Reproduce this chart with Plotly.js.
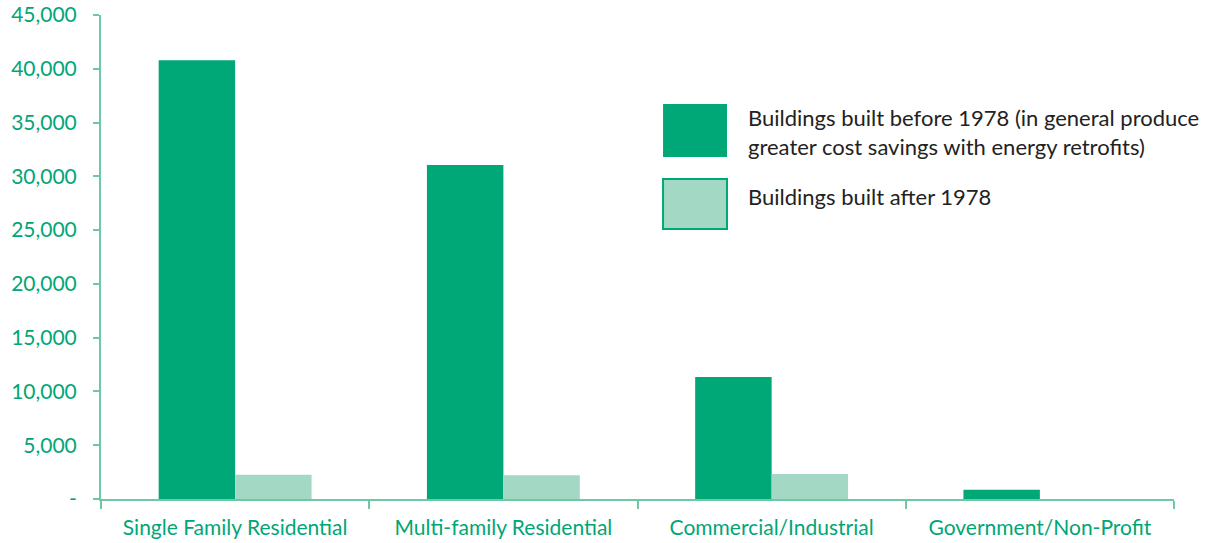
<!DOCTYPE html>
<html>
<head>
<meta charset="utf-8">
<script src="https://cdn.plot.ly/plotly-3.0.1.min.js"></script>
<style>html,body{margin:0;padding:0;background:#fff;}#chart{width:1205px;height:543px;}</style>
</head>
<body>
<div id="chart"></div>
<script>
const categories = ["Single Family Residential", "Multi-family Residential", "Commercial/Industrial", "Government/Non-Profit"];
const seriesNames = ["Buildings built before 1978 (in general produce<br>greater cost savings with energy retrofits)", "Buildings built after 1978"];
const before1978 = [40800, 31050, 11350, 850];
const after1978 = [2250, 2200, 2330, 0];
const yTickVals = [0, 5000, 10000, 15000, 20000, 25000, 30000, 35000, 40000, 45000];
const yTickText = ["-", "5,000", "10,000", "15,000", "20,000", "25,000", "30,000", "35,000", "40,000", "45,000"];

const dark = "#00a777";
const light = "#a3d9c4";
const axisCol = "#6ec8a3";
const tickCol = "#00a676";

const traces = [
  {type: "bar", x: categories, y: before1978, name: seriesNames[0], marker: {color: dark, line: {width: 0}}, showlegend: false, hoverinfo: "x+y"},
  {type: "bar", x: categories, y: after1978, name: seriesNames[1], marker: {color: light, line: {width: 0}}, showlegend: false, hoverinfo: "x+y"}
];

const layout = {
  width: 1205, height: 543,
  margin: {l: 101, r: 31, t: 15, b: 44},
  paper_bgcolor: "#fff", plot_bgcolor: "#fff",
  barmode: "group", bargap: 0.43, bargroupgap: 0,
  font: {family: "Lato, 'Open Sans', sans-serif", color: tickCol},
  xaxis: {
    type: "category", tickson: "boundaries", ticks: "outside", ticklen: 8, tickwidth: 2, tickcolor: axisCol,
    showline: true, linecolor: axisCol, linewidth: 2, showgrid: false, zeroline: false, ticklabelstandoff: 9,
    tickfont: {family: "Lato, sans-serif", size: 21, color: tickCol}
  },
  yaxis: {
    range: [0, 45000], tickvals: yTickVals, ticktext: yTickText, ticks: "outside", ticklen: 6, tickwidth: 2, tickcolor: axisCol,
    showline: true, linecolor: axisCol, linewidth: 2, showgrid: false, zeroline: false, ticklabelstandoff: 12,
    tickfont: {family: "Lato, sans-serif", size: 21, color: tickCol}
  },
  shapes: [
    {type: "rect", xref: "paper", yref: "paper", x0: 0.5238, x1: 0.5834, y0: 0.7066, y1: 0.8161, fillcolor: dark, line: {width: 0}},
    {type: "rect", xref: "paper", yref: "paper", x0: 0.5238, x1: 0.5834, y0: 0.5579, y1: 0.6612, fillcolor: light, line: {color: dark, width: 2}}
  ],
  annotations: [
    {xref: "paper", yref: "paper", x: 0.6015, y: 0.758, xanchor: "left", yanchor: "middle", align: "left", showarrow: false,
     text: seriesNames[0], font: {family: "Lato, sans-serif", size: 22, color: "#222"}},
    {xref: "paper", yref: "paper", x: 0.6015, y: 0.626, xanchor: "left", yanchor: "middle", align: "left", showarrow: false,
     text: seriesNames[1], font: {family: "Lato, sans-serif", size: 22, color: "#222"}}
  ]
};

Plotly.newPlot("chart", traces, layout, {displayModeBar: false, staticPlot: true});
</script>
</body>
</html>
